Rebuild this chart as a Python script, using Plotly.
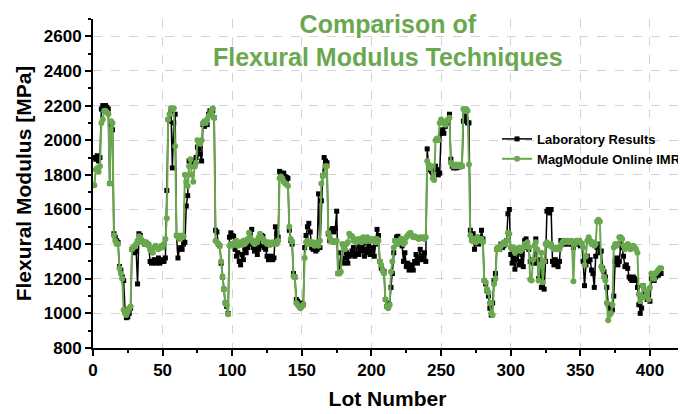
import plotly.graph_objects as go

# Flexural modulus per lot (MPa), 10 lots per row
lab_results = [
    1900, 1890, 1910, 1880, 1900, 2180, 2200, 2190, 2200, 2190,
    2180, 1750, 2090, 2060, 1460, 1440, 1420, 1410, 1270, 1250,
    1210, 1190, 1020, 975, 980, 1000, 1030, 1370, 1380, 1350,
    1360, 1170, 1460, 1450, 1420, 1410, 1400, 1410, 1400, 1395,
    1300, 1290, 1300, 1310, 1290, 1300, 1320, 1290, 1310, 1300,
    1300, 1320, 1710, 2120, 2110, 2170, 1840, 2100, 2150, 1450,
    1320, 1370, 1380, 1370, 1400, 1410, 1620, 1680, 1880, 1870,
    1860, 1880, 1850, 1900, 1960, 1950, 1920, 1880, 2090, 2080,
    2100, 2090, 2150, 2170, 2160, 2170, 2130, 1480, 1470, 1400,
    1390, 1290, 1210, 1140, 1060, 1040, 1000, 1440, 1465, 1450,
    1445, 1370, 1330, 1350, 1300, 1280, 1340, 1310, 1370, 1350,
    1380, 1400, 1420, 1485, 1380, 1360, 1400, 1340, 1370, 1390,
    1450, 1445, 1380, 1370, 1330, 1310, 1320, 1330, 1310, 1320,
    1500, 1460, 1440, 1820, 1810, 1800, 1810, 1790, 1785, 1780,
    1480, 1420, 1400, 1230, 1210, 1080, 1070, 1050, 1040, 1060,
    1050, 1380, 1450, 1500, 1520, 1470, 1380, 1370, 1390, 1360,
    1370, 1690, 1380, 1650, 1795, 1900, 1880, 1870, 1460, 1420,
    1480, 1490, 1470, 1490, 1590, 1230, 1240, 1350, 1300, 1290,
    1320, 1350, 1290, 1330, 1340, 1360, 1380, 1330, 1350, 1410,
    1340, 1380, 1360, 1400, 1330, 1370, 1350, 1390, 1340, 1360,
    1380, 1330, 1400, 1485, 1450, 1300, 1260, 1250, 1240, 1080,
    1040, 1060, 1050, 1150, 1230, 1350, 1420, 1440, 1445, 1400,
    1430, 1390, 1300, 1350, 1270, 1290, 1250, 1260, 1280, 1250,
    1300, 1340, 1290, 1320, 1370, 1310, 1330, 1350, 1300, 1950,
    1850, 1830, 1820, 1810, 1830, 1850, 1830, 1800, 1810, 2040,
    2060, 2040, 2080, 2100, 2110, 2150, 1890, 1850, 1840, 1850,
    1840, 1850, 1845, 1850, 1850, 2110, 2140, 2120, 2100, 2100,
    1480, 1430, 1460, 1370, 1420, 1440, 1400, 1420, 1480, 1430,
    1190, 1170, 1130, 1100, 1030, 990, 1060, 1190, 1230, 1370,
    1380, 1370, 1400, 1380, 1390, 1400, 1420, 1575, 1600, 1340,
    1290, 1320, 1255, 1310, 1350, 1280, 1300, 1340, 1270, 1420,
    1430, 1380, 1370, 1300, 1310, 1290, 1300, 1430, 1290, 1200,
    1310, 1150, 1250, 1140, 1300, 1590, 1600, 1580, 1600, 1300,
    1280, 1310, 1290, 1270, 1300, 1420, 1410, 1400, 1420, 1410,
    1400, 1410, 1420, 1400, 1380, 1400, 1410, 1400, 1420, 1390,
    1400, 1300, 1160, 1280, 1330, 1300, 1310, 1250, 1230, 1150,
    1330, 1380, 1400, 1350, 1360, 1260, 1240, 1210, 1150, 1050,
    1030, 1010, 1020, 1100, 1300, 1320, 1280, 1300, 1400, 1380,
    1330, 1270, 1280, 1260, 1210, 1200, 1190, 1210, 1200, 1190,
    1150, 1050, 1000, 1030, 1160, 1100, 1120, 1080, 1090, 1070,
    1200, 1230, 1190, 1210, 1230, 1220, 1240, 1230,
]

online_imr = [
    1740, 1830, 1840, 1820, 1850, 2100, 2120, 2170, 2170, 2160,
    2150, 1750, 2110, 2100, 1450, 1420, 1400, 1400, 1260, 1230,
    1200, 1020, 1000, 990, 1010, 1030, 1040, 1370, 1380, 1390,
    1400, 1420, 1445, 1440, 1420, 1410, 1400, 1410, 1400, 1390,
    1370, 1360, 1350, 1380, 1390, 1380, 1370, 1380, 1390, 1380,
    1400, 1430, 1550, 2120, 2150, 2185, 2180, 2185, 1965, 1450,
    1440, 1430, 1450, 1440, 1445, 1800, 1760, 1735, 1850, 1890,
    1800, 1760, 1850, 1870, 2000, 1990, 1980, 2000, 2100, 2110,
    2100, 2120, 2140, 2150, 2170, 2185, 2130, 1420, 1410, 1400,
    1390, 1300, 1210, 1140, 1060, 1050, 995, 1390, 1400, 1390,
    1400, 1410, 1420, 1390, 1400, 1410, 1395, 1420, 1400, 1410,
    1430, 1465, 1440, 1420, 1410, 1400, 1420, 1410, 1440, 1460,
    1440, 1430, 1420, 1410, 1400, 1410, 1395, 1400, 1410, 1400,
    1410, 1400, 1420, 1780, 1790, 1780, 1760, 1750, 1745, 1735,
    1500, 1430, 1415, 1215, 1210, 1060, 1050, 1040, 1030, 1040,
    1050, 1320, 1410, 1420, 1400, 1415, 1400, 1410, 1390, 1400,
    1410, 1390, 1420, 1750, 1795, 1800, 1850, 1850, 1465, 1440,
    1415, 1420, 1410, 1415, 1420, 1230, 1230, 1240, 1400, 1380,
    1370, 1400, 1410, 1460, 1450, 1445, 1420, 1430, 1410, 1420,
    1430, 1420, 1410, 1440, 1430, 1420, 1440, 1430, 1420, 1430,
    1420, 1430, 1410, 1430, 1420, 1300, 1280, 1250, 1230, 1080,
    1040, 1030, 1050, 1240, 1300, 1380, 1420, 1410, 1400, 1420,
    1430, 1420, 1400, 1410, 1440, 1450, 1460, 1465, 1450, 1440,
    1445, 1440, 1435, 1430, 1440, 1435, 1440, 1430, 1440, 1880,
    1860, 1840, 1850, 1780, 1770, 2000, 2010, 2000, 2100, 2120,
    2110, 2100, 2090, 2110, 2120, 2130, 1870, 1860, 1850, 1850,
    1860, 1850, 1850, 1860, 1850, 2180, 2170, 2180, 2170, 1860,
    1450, 1420, 1420, 1430, 1410, 1440, 1430, 1420, 1430, 1410,
    1190, 1180, 1140, 1120, 1060, 1000, 990, 1170, 1200, 1370,
    1380, 1370, 1390, 1400, 1410, 1400, 1420, 1465, 1460, 1380,
    1370, 1380, 1350, 1360, 1370, 1380, 1360, 1370, 1380, 1400,
    1390, 1410, 1380, 1195, 1190, 1310, 1390, 1410, 1370, 1190,
    1280, 1350, 1180, 1300, 1400, 1410, 1400, 1390, 1400, 1380,
    1370, 1380, 1370, 1380, 1370, 1390, 1410, 1420, 1410, 1420,
    1420, 1410, 1420, 1410, 1185, 1400, 1420, 1410, 1420, 1410,
    1400, 1380, 1280, 1330, 1420, 1440, 1420, 1400, 1410, 1390,
    1400, 1530, 1540, 1530, 1270, 1250, 1210, 1190, 1060, 960,
    990, 1000, 1050, 1380, 1400, 1390, 1400, 1440, 1440, 1430,
    1390, 1370, 1380, 1400, 1390, 1370, 1380, 1390, 1380, 1370,
    1350, 1110, 1070, 1090, 1160, 1140, 1100, 1120, 1080, 1150,
    1230, 1210, 1200, 1230, 1240, 1250, 1260, 1260,
]

lot_number = list(range(1, len(lab_results) + 1))

GREEN = "#6aa84f"
FONT = "Liberation Sans, Arial, sans-serif"

fig = go.Figure()
fig.add_scatter(x=lot_number, y=lab_results, name="Laboratory Results",
                mode="lines+markers", line=dict(color="black", width=1.5),
                marker=dict(symbol="square", size=5, color="black"))
fig.add_scatter(x=lot_number, y=online_imr, name="MagModule Online IMR",
                mode="lines+markers", line=dict(color=GREEN, width=2),
                marker=dict(symbol="circle", size=6, color=GREEN))

axis_common = dict(
    showline=True, linecolor="black", linewidth=2, automargin=False,
    ticks="outside", ticklen=6, tickwidth=1.5, tickcolor="black",
    showgrid=True, gridcolor="#d4d4d4", griddash="dash", gridwidth=1,
    zeroline=False, tickfont=dict(family=FONT, size=17, color="black", weight="bold"),
)

fig.update_xaxes(
    range=[0, 423], dtick=50, tick0=0,
    minor=dict(dtick=25, ticks="outside", ticklen=3, tickcolor="black", showgrid=False),
    title=dict(text="<b>Lot Number</b>", font=dict(family=FONT, size=21, color="black"), standoff=12),
    **axis_common,
)
fig.update_yaxes(
    range=[800, 2700], dtick=200, tick0=800,
    minor=dict(dtick=100, ticks="outside", ticklen=3, tickcolor="black", showgrid=False),
    title=dict(text="<b>Flexural Modulus [MPa]</b>", font=dict(family=FONT, size=21, color="black"), standoff=6),
    **axis_common,
)

# the page puts the figure 8px in from the top-left corner, so margins are offset by that
fig.update_layout(
    width=686, height=414,
    margin=dict(l=85, r=8, t=11, b=74),
    paper_bgcolor="white", plot_bgcolor="white",
    annotations=[dict(text="<b>Comparison of<br>Flexural Modulus Techniques</b>",
                      font=dict(family=FONT, size=25, color=GREEN),
                      xref="paper", x=0.5, xanchor="center",
                      yref="paper", y=1.033, yanchor="top", showarrow=False)],
    legend=dict(x=0.686, y=0.681, xanchor="left", yanchor="top",
                bgcolor="rgba(0,0,0,0)", tracegroupgap=0,
                font=dict(family=FONT, size=13, color="black", weight="bold")),
)

fig.write_html("out.html")
